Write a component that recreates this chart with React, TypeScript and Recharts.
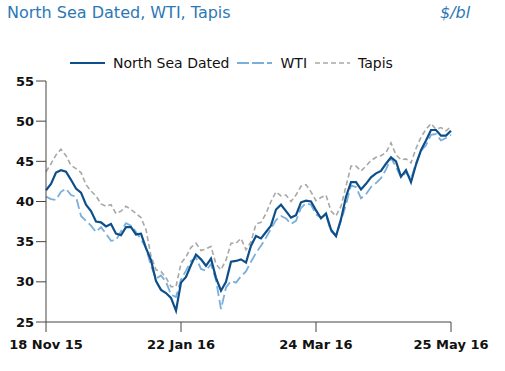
import { LineChart, Line, XAxis, YAxis } from 'recharts';

// crude oil benchmarks, roughly one point every ~1.6 trading days, 18 Nov 15 - 25 May 16
const northSeaDated = [
  41.4, 42.2, 43.6, 43.9, 43.7, 42.7, 41.6, 41.1, 39.6, 38.8, 37.5, 37.4, 36.9, 37.2,
  36.0, 35.8, 36.8, 36.8, 35.9, 36.0, 34.2, 32.7, 30.1, 29.0, 28.6, 28.0, 26.4, 29.9,
  30.6, 32.1, 33.4, 32.8, 32.0, 32.9, 30.5, 28.9, 30.0, 32.5, 32.6, 32.8, 32.4, 34.5,
  35.7, 35.4, 36.2, 37.0, 39.0, 39.6, 38.8, 38.0, 38.3, 39.9, 40.1, 40.0, 38.9, 37.9,
  38.5, 36.5, 35.7, 37.8, 40.6, 42.4, 42.4, 41.5, 42.2, 43.0, 43.5, 43.8, 44.7, 45.5,
  45.0, 43.1, 43.9, 42.4, 44.6, 46.4, 47.6, 48.9, 48.9, 48.2, 48.2, 48.8,
];
const wti = [
  40.6, 40.3, 40.2, 41.2, 41.6, 40.8, 40.6, 38.2, 37.6, 37.0, 36.2, 36.8, 36.0, 35.1,
  35.2, 36.3, 37.3, 37.0, 36.2, 35.3, 34.2, 32.0, 30.4, 30.8, 30.0, 28.4, 28.1, 30.3,
  31.4, 32.6, 33.0, 31.6, 31.4, 32.2, 30.2, 26.6, 29.3, 30.1, 29.9, 30.7, 31.3, 32.5,
  33.6, 34.5, 35.5, 36.6, 37.7, 38.2, 37.9, 37.2, 37.6, 39.2, 39.8, 39.6, 38.4, 38.0,
  38.3, 36.3, 35.7, 37.6, 39.6, 42.0, 41.8, 40.4, 40.9, 41.8, 42.3, 42.9, 44.0, 45.4,
  44.3, 43.0, 43.6, 42.8, 44.8, 46.3, 47.0, 48.3, 48.4, 47.6, 47.9, 48.3,
];
const tapis = [
  43.7, 44.7, 45.8, 46.5, 45.7, 44.5, 44.1, 43.6, 42.1, 41.3, 40.7, 39.7, 39.4, 39.6,
  38.5, 38.8, 39.4, 39.0, 38.5, 38.0, 36.5, 33.2, 31.5, 31.3, 30.5, 29.4, 29.4, 32.3,
  33.1, 34.3, 34.8, 33.9, 34.1, 34.4, 32.2, 31.5, 32.7, 34.8, 34.8, 35.4, 34.0, 35.0,
  37.2, 37.4, 38.5, 40.0, 41.2, 40.7, 40.8, 40.0, 40.8, 41.9, 42.1, 41.2, 40.1, 40.5,
  40.8, 38.8, 38.2, 39.4, 41.9, 44.4, 44.4, 43.8, 44.4, 45.1, 45.5, 45.7, 46.1, 47.3,
  45.8, 45.2, 45.3, 44.8, 46.6, 48.0, 49.0, 49.7, 49.0, 49.2, 48.8, 49.3,
];

const dateTicks = [0, 27, 54, 81];
const dateLabels = ['18 Nov 15', '22 Jan 16', '24 Mar 16', '25 May 16'];
const priceTicks = [25, 30, 35, 40, 45, 50, 55];

const data = northSeaDated.map((v, i) => ({ i, nsd: v, wti: wti[i], tapis: tapis[i] }));

const FONT = '"DejaVu Sans", sans-serif';
const DARK = '#0d4f8b';
const LIGHT = '#7aaedb';
const GREY = '#a8a8a8';

const legendItems = [
  { name: 'North Sea Dated', color: DARK, dash: undefined, width: 2 },
  { name: 'WTI', color: LIGHT, dash: '12 3', width: 2 },
  { name: 'Tapis', color: GREY, dash: '5 3', width: 1.6 },
];

export default function App() {
  const axisTick = { fontSize: 13, fontWeight: 'bold', fill: '#111', fontFamily: FONT };
  return (
    <div style={{ position: 'absolute', left: 0, top: 0, width: 505, height: 371, background: '#fff', fontFamily: FONT }}>
      <div style={{ position: 'absolute', left: 7, top: 3, fontSize: 16, color: '#2b78b5' }}>
        North Sea Dated, WTI, Tapis
      </div>
      <div style={{ position: 'absolute', left: 440, top: 3, fontSize: 16, color: '#2b78b5', fontStyle: 'italic' }}>
        $/bl
      </div>
      <div style={{ position: 'absolute', left: 70, top: 55, display: 'flex', alignItems: 'center', fontSize: 14, color: '#111' }}>
        {legendItems.map((it) => (
          <span key={it.name} style={{ display: 'flex', alignItems: 'center', marginRight: 8 }}>
            <svg width={35} height={10} style={{ marginRight: 8 }}>
              <line x1={0} y1={5} x2={35} y2={5} stroke={it.color} strokeWidth={it.width} strokeDasharray={it.dash} />
            </svg>
            {it.name}
          </span>
        ))}
      </div>
      <LineChart width={505} height={371} data={data} margin={{ top: 81, right: 54, bottom: 0, left: 0 }}>
        <XAxis
          dataKey="i"
          type="number"
          domain={[0, 81]}
          ticks={dateTicks}
          tickFormatter={(v) => dateLabels[dateTicks.indexOf(v)] ?? ''}
          tick={axisTick}
          tickSize={10}
          tickMargin={8}
          height={49}
          stroke="#444"
          interval={0}
        />
        <YAxis
          type="number"
          domain={[25, 55]}
          ticks={priceTicks}
          tick={axisTick}
          tickSize={10}
          width={46}
          stroke="#444"
          interval={0}
        />
        <Line dataKey="tapis" stroke={GREY} strokeWidth={1.6} strokeDasharray="5 3" dot={false} isAnimationActive={false} />
        <Line dataKey="wti" stroke={LIGHT} strokeWidth={1.8} strokeDasharray="10 4" dot={false} isAnimationActive={false} />
        <Line dataKey="nsd" stroke={DARK} strokeWidth={2.2} dot={false} isAnimationActive={false} />
      </LineChart>
    </div>
  );
}
